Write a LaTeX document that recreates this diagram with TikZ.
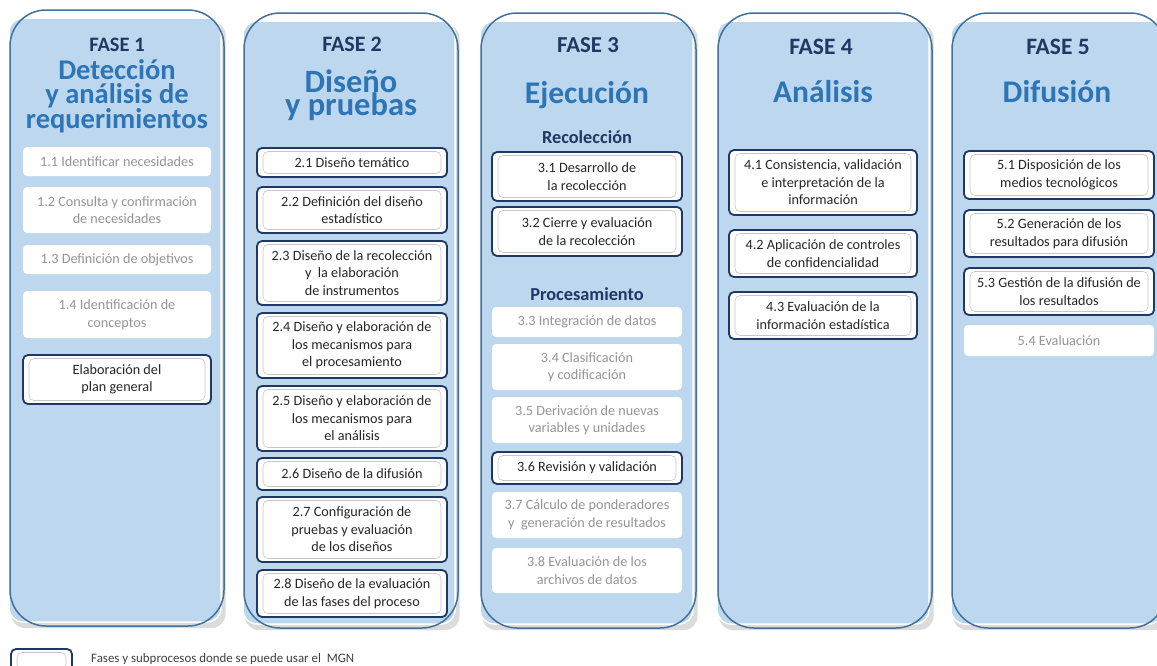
\documentclass[tikz,border=0pt]{standalone}
\usepackage{fontspec}
\setmainfont{Carlito}
\definecolor{colfill}{HTML}{BDD7EE}
\definecolor{colline}{HTML}{41719C}
\definecolor{fasecol}{HTML}{1F3864}
\definecolor{titlecol}{HTML}{2E75B6}
\definecolor{grayt}{HTML}{959595}
\definecolor{darkt}{HTML}{262626}
\definecolor{mgnline}{HTML}{1F3864}
\definecolor{legt}{HTML}{404040}
\newcommand\boxfont{\fontsize{14.2}{17.5}\selectfont}
\newcommand\fasecol[4]{%
  \path[fill=black!14, rounded corners=14pt] (#1+1,-#2-11) rectangle (#3+1.5,-#4-2);
  \path[fill=colfill, draw=white, line width=1.5pt, rounded corners=14pt] (#1-1,-#2-8) rectangle (#3-3,-#4+4);
  \draw[colline, line width=1.5pt, rounded corners=36pt] (#1,-#2) rectangle (#3,-#4);
}
\tikzset{
  pbox/.style 2 args={fill=white, rounded corners=4pt, minimum width=#1, minimum height=#2,
    inner sep=0pt, text=grayt, font=\boxfont, align=center},
  mbox/.style 2 args={fill=white, draw=mgnline, line width=1.8pt, rounded corners=5pt,
    minimum width=#1, minimum height=#2, inner sep=0pt, text=darkt, font=\boxfont, align=center,
    path picture={\draw[gray!45, line width=0.6pt]
      ([xshift=6pt,yshift=-3.5pt]path picture bounding box.north west) rectangle
      ([xshift=-6pt,yshift=3.5pt]path picture bounding box.south east);}},
  fase/.style={anchor=base, font=\fontsize{#1}{24}\selectfont\bfseries, text=fasecol, inner sep=0pt},
  ttl/.style={anchor=base, font=\fontsize{#1}{23.3}\selectfont\bfseries, text=titlecol, inner sep=0pt, align=center},
  sub/.style={anchor=base, font=\fontsize{18.3}{20}\selectfont\bfseries, text=fasecol, inner sep=0pt},
}
\begin{document}
\begin{tikzpicture}[x=1pt, y=1pt]
\useasboundingbox (0,0) rectangle (1157,-665);
\clip (0,0) rectangle (1157,-665);
\fill[white] (0,0) rectangle (1157,-665);

% columns
\fasecol{10}{10}{224}{626}
\fasecol{244}{13}{458}{628}
\fasecol{481}{13}{696}{628}
\fasecol{718}{13}{932}{628}
\fasecol{952}{13}{1166}{628}

% titles
\node[fase=20.5] (f1) at (117,-51) {FASE 1};
\node[ttl=28.5] (t1) at (117,-128.5) {Detección\\y análisis de\\requerimientos};

\node[fase=22] (f2) at (352,-51) {FASE 2};
\node[ttl=32.5] (t2) at (351,-115.5) {Diseño\\y pruebas};

\node[fase=22.8] (f3) at (588,-52.5) {FASE 3};
\node[ttl=31.5] (t3a) at (587,-103) {Ejecución};
\node[sub] (s3a) at (587,-143) {Recolección};
\node[sub] (s3b) at (587,-300) {Procesamiento};

\node[fase=23.5] (f4) at (821,-54) {FASE 4};
\node[ttl=31.5] (t4a) at (823,-102) {Análisis};

\node[fase=23.5] (f5) at (1058,-54) {FASE 5};
\node[ttl=31.5] (t5a) at (1057,-102) {Difusión};

% column 1
\node[pbox={188pt}{29pt}] (b11) at (117,-161.5) {1.1 Identificar necesidades};
\node[pbox={188pt}{46pt}] (b12) at (117,-210) {1.2 Consulta y confirmación\\de necesidades};
\node[pbox={188pt}{29pt}] (b13) at (117,-259.5) {1.3 Definición de objetivos};
\node[pbox={188pt}{47pt}] (b14) at (117,-314.5) {1.4 Identificación de\\conceptos};
\node[mbox={188pt}{49pt}] (b15) at (117,-379.5) {Elaboración del\\plan general};

% column 2
\node[mbox={190pt}{29pt}] (b21) at (352,-162.5) {2.1 Diseño temático};
\node[mbox={190pt}{46pt}] (b22) at (352,-210) {2.2 Definición del diseño\\estadístico};
\node[mbox={190pt}{64pt}] (b23) at (352,-273) {2.3 Diseño de la recolección\\y\ \ la elaboración\\de instrumentos};
\node[mbox={190pt}{65pt}] (b24) at (352,-345.5) {2.4 Diseño y elaboración de\\los mecanismos para\\el procesamiento};
\node[mbox={190pt}{65pt}] (b25) at (352,-418.5) {2.5 Diseño y elaboración de\\los mecanismos para\\el análisis};
\node[mbox={190pt}{32pt}] (b26) at (352,-474) {2.6 Diseño de la difusión};
\node[mbox={190pt}{65pt}] (b27) at (352,-529.5) {2.7 Configuración de\\pruebas y evaluación\\de los diseños};
\node[mbox={190pt}{47pt}] (b28) at (352,-593.5) {2.8 Diseño de la evaluación\\de las fases del proceso};

% column 3
\node[mbox={190pt}{49pt}] (b31) at (587,-176.5) {3.1 Desarrollo de\\la recolección};
\node[mbox={190pt}{49pt}] (b32) at (587,-231.5) {3.2 Cierre y evaluación\\de la recolección};
\node[pbox={190pt}{30pt}] (b33) at (587,-322) {3.3 Integración de datos};
\node[pbox={190pt}{46pt}] (b34) at (587,-367) {3.4 Clasificación\\y codificación};
\node[pbox={190pt}{46pt}] (b35) at (587,-420) {3.5 Derivación de nuevas\\variables y unidades};
\node[mbox={190pt}{32pt}] (b36) at (587,-468) {3.6 Revisión y validación};
\node[pbox={190pt}{46pt}] (b37) at (587,-515) {3.7 Cálculo de ponderadores\\y\ \ generación de resultados};
\node[pbox={190pt}{45pt}] (b38) at (587,-570.5) {3.8 Evaluación de los\\archivos de datos};

% column 4
\node[mbox={188pt}{65pt}] (b41) at (823,-182.5) {4.1 Consistencia, validación\\e interpretación de la\\información};
\node[mbox={188pt}{47pt}] (b42) at (823,-253.5) {4.2 Aplicación de controles\\de confidencialidad};
\node[mbox={188pt}{47pt}] (b43) at (823,-315.5) {4.3 Evaluación de la\\información estadística};

% column 5
\node[mbox={190pt}{48pt}] (b51) at (1059,-175) {5.1 Disposición de los\\medios tecnológicos};
\node[mbox={190pt}{47pt}] (b52) at (1059,-233.5) {5.2 Generación de los\\resultados para difusión};
\node[mbox={190pt}{47pt}] (b53) at (1059,-291.5) {5.3 Gestión de la difusión de\\los resultados};
\node[pbox={190pt}{31pt}] (b54) at (1059,-340.5) {5.4 Evaluación};

% legend
\node[mbox={61pt}{24pt}] (leg) at (41.5,-661) {};
\node[anchor=base west, inner sep=0pt, text=legt, font=\fontsize{12.9}{15}\selectfont] (legtxt) at (91,-662) {Fases y subprocesos donde se puede usar el\ \ MGN};
\end{tikzpicture}
\end{document}
